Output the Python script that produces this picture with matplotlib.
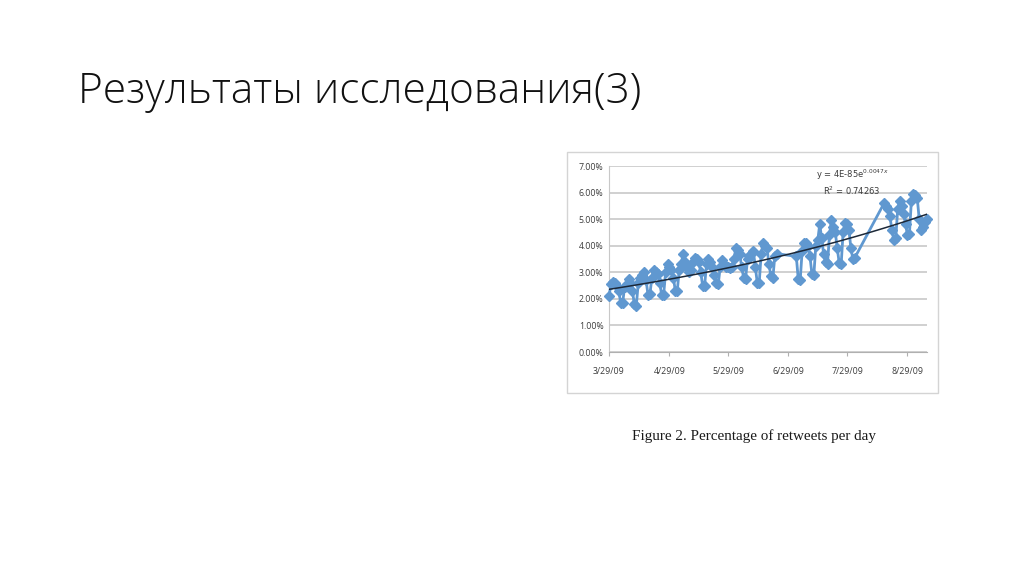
import numpy as np
import pandas as pd
import matplotlib
matplotlib.use("Agg")
import matplotlib.pyplot as plt
import matplotlib.dates as mdates
from matplotlib.patches import Rectangle

# daily share of retweets (%), three runs of days with gaps between them
seg1_start, seg1_end = "2009-03-29", "2009-06-23"
seg1_vals = [2.1, 2.55, 2.65, 2.6, 2.5, 2.3, 1.85,
             1.85, 2.45, 2.55, 2.75, 2.6, 2.3, 1.8,
             1.75, 2.6, 2.8, 2.9, 3.0, 2.7, 2.15,
             2.2, 2.8, 3.1, 3.0, 2.95, 2.6, 2.15,
             2.15, 3.0, 3.3, 3.2, 3.1, 2.8, 2.3,
             2.3, 3.1, 3.3, 3.7, 3.4, 3.2, 3.0,
             3.1, 3.4, 3.55, 3.5, 3.4, 3.0, 2.5,
             2.5, 3.3, 3.5, 3.4, 3.2, 2.9, 2.6,
             2.55, 3.2, 3.45, 3.3, 3.2, 3.2, 3.15,
             3.2, 3.5, 3.9, 3.85, 3.7, 3.2, 2.8,
             2.75, 3.5, 3.6, 3.7, 3.8, 3.2, 2.6,
             2.6, 3.7, 4.1, 4.0, 3.9, 3.3, 2.85,
             2.8, 3.6, 3.7]
seg2_start, seg2_end = "2009-07-03", "2009-08-02"
seg2_vals = [3.6, 2.75, 2.7, 3.8, 4.1, 4.1, 4.0, 3.6, 2.95, 2.9,
             4.0, 4.2, 4.8, 4.3, 3.7, 3.4, 3.3, 4.4, 4.95, 4.7,
             4.5, 3.9, 3.35, 3.3, 4.5, 4.85, 4.8, 4.6, 3.9, 3.5, 3.55]
seg3_start, seg3_end = "2009-08-17", "2009-09-08"
seg3_vals = [5.6, 5.5, 5.4, 5.1, 4.6, 4.2, 4.3, 5.4, 5.7, 5.5,
             5.2, 4.8, 4.4, 4.45, 5.7, 5.95, 5.9, 5.8, 5.0, 4.6,
             4.7, 4.9, 5.0]

tick_dates = ["2009-03-29", "2009-04-29", "2009-05-29",
              "2009-06-29", "2009-07-29", "2009-08-29"]
yticks = [0, 1, 2, 3, 4, 5, 6, 7]

title = "Результаты исследования(3)"
caption = "Figure 2. Percentage of retweets per day"
eq_text = "y = 4E-85e$^{0.0047x}$"
r2_text = "R$^2$ = 0.74263"

dates = np.concatenate([pd.date_range(seg1_start, seg1_end).values,
                        pd.date_range(seg2_start, seg2_end).values,
                        pd.date_range(seg3_start, seg3_end).values])
vals = np.array(seg1_vals + seg2_vals + seg3_vals)
x = mdates.date2num(pd.to_datetime(dates))

fig = plt.figure(figsize=(10.24, 5.74), dpi=100)
fig.patch.set_facecolor("white")

fig.text(78 / 1024, 1 - 92 / 574, title, fontsize=30.5, family=["Open Sans", "DejaVu Sans"],
         fontweight="light", va="center", ha="left", color="#111111")

# frame of the pasted chart picture
fig.patches.append(Rectangle((567 / 1024, 1 - 393 / 574), 371 / 1024, 241 / 574,
                             transform=fig.transFigure, fill=False,
                             edgecolor="#d4d4d4", linewidth=1))

ax = fig.add_axes([609 / 1024, 1 - 352 / 574, 318 / 1024, 186 / 574])
ax.plot(x, vals, color="#6098d0", lw=2.0, marker="D", ms=5,
        mec="#6098d0", mfc="#6098d0", clip_on=False, zorder=3)

# exponential trendline
k, b = np.polyfit(x, np.log(vals), 1)
xt = np.linspace(x[0], x[-1], 100)
ax.plot(xt, np.exp(b + k * xt), color="#1c2838", lw=1.1, zorder=4)

ax.set_ylim(0, 7)
ax.set_xlim(x[0], x[-1])
ax.set_yticks(yticks)
ax.set_yticklabels(["%.2f%%" % v for v in yticks])
ax.set_xticks(mdates.date2num(pd.to_datetime(tick_dates)))
ax.set_xticklabels([pd.Timestamp(d).strftime("%-m/%d/%y") for d in tick_dates])
ax.grid(axis="y", color="#c4c4c4", lw=1.1)
ax.set_axisbelow(True)
for s in ["top", "right"]:
    ax.spines[s].set_visible(False)
ax.spines["left"].set_color("#c8c8c8")
ax.spines["bottom"].set_color("#b0b0b0")
ax.tick_params(axis="y", length=0, pad=4, labelsize=6.3, labelcolor="#3c3c3c")
ax.tick_params(axis="x", length=3, color="#b0b0b0", pad=8, labelsize=6.3, labelcolor="#3c3c3c")
for t in ax.get_xticklabels() + ax.get_yticklabels():
    t.set_family(["Open Sans", "DejaVu Sans"])

fig.text(852 / 1024, 1 - 175 / 574, eq_text, fontsize=6, ha="center", va="center", color="#3c3c3c")
fig.text(852 / 1024, 1 - 191 / 574, r2_text, fontsize=6, ha="center", va="center", color="#3c3c3c")

fig.text(754 / 1024, 1 - 436 / 574, caption, fontsize=10.9, family=["Liberation Serif", "DejaVu Serif"],
         ha="center", va="center", color="#1a1a1a")

fig.savefig("out.png", dpi=100, facecolor="white")
